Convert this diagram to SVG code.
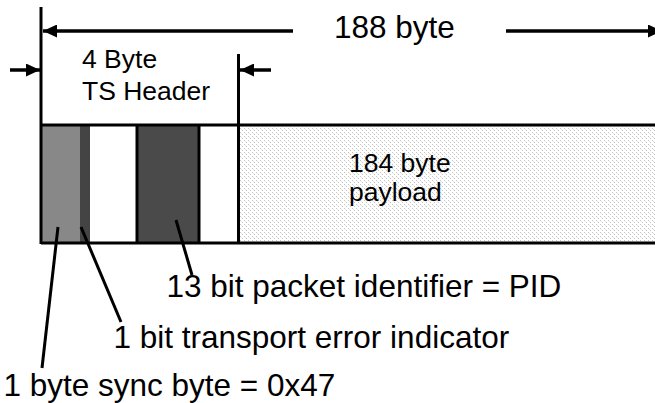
<svg xmlns="http://www.w3.org/2000/svg" width="655" height="403" viewBox="0 0 655 403">
  <style>
    .t { font-family: "Liberation Sans", Arial, sans-serif; fill: #000; }
    .big { font-size: 31.5px; }
    .mid { font-size: 26.5px; }
    .ln { stroke: #000; stroke-width: 3.5; fill: none; }
    .bd { stroke: #000; stroke-width: 3; fill: none; }
  </style>
  <defs>
    <marker id="ah" markerUnits="userSpaceOnUse" markerWidth="14" markerHeight="13" refX="14" refY="6.5" orient="auto">
      <path d="M0,0 L14,6.5 L0,13 z" fill="#000"/>
    </marker>
    <pattern id="dots" width="4" height="4" patternUnits="userSpaceOnUse">
      <rect width="4" height="4" fill="#fff"/>
      <rect x="0" y="0" width="1" height="1" fill="#c4c4c4"/>
      <rect x="2" y="2" width="1" height="1" fill="#c4c4c4"/>
      <rect x="1" y="1" width="1" height="1" fill="#e6e6e6"/>
    </pattern>
  </defs>
  <rect width="655" height="403" fill="#fff"/>

  <g id="packet">
    <rect x="41" y="125" width="616" height="118" fill="#fff"/>
    <rect x="41" y="125" width="39" height="118" fill="#888888"/>
    <rect x="80" y="125" width="10" height="118" fill="#444444"/>
    <rect x="137" y="125" width="62" height="118" fill="#4a4a4a"/>
    <rect x="238" y="125" width="419" height="118" fill="url(#dots)"/>
    <line class="bd" x1="137" y1="125" x2="137" y2="243"/>
    <line class="bd" x1="199" y1="125" x2="199" y2="243"/>
    <line class="bd" x1="41" y1="125" x2="657" y2="125"/>
    <line class="bd" x1="41" y1="243" x2="657" y2="243"/>
  </g>

  <g id="payload-label">
    <text class="t mid" x="349" y="172">184 byte</text>
    <text class="t mid" x="349" y="201">payload</text>
  </g>

  <g id="header-label">
    <text class="t mid" x="82" y="68">4 Byte</text>
    <text class="t mid" x="82" y="100">TS Header</text>
  </g>

  <g id="total-label">
    <text class="t big" x="334" y="38">188 byte</text>
  </g>

  <g id="connectors">
    <line class="bd" x1="41" y1="7" x2="41" y2="244"/>
    <line class="bd" x1="238.5" y1="54" x2="238.5" y2="244"/>
    <line class="ln" x1="293" y1="31" x2="43" y2="31" marker-end="url(#ah)"/>
    <line class="ln" x1="506" y1="31" x2="662" y2="31" marker-end="url(#ah)"/>
    <line class="ln" x1="10" y1="70" x2="40" y2="70" marker-end="url(#ah)"/>
    <line class="ln" x1="271" y1="70" x2="240" y2="70" marker-end="url(#ah)"/>
    <line class="bd" x1="58" y1="227" x2="42" y2="368"/>
    <line class="bd" x1="81" y1="227" x2="121" y2="322"/>
    <line class="bd" x1="176" y1="220" x2="192" y2="275"/>
  </g>

  <g id="pid-label">
    <text class="t big" x="166.5" y="297">13 bit packet identifier = PID</text>
  </g>
  <g id="tei-label">
    <text class="t big" x="113.5" y="348">1 bit transport error indicator</text>
  </g>
  <g id="sync-label">
    <text class="t big" x="3.5" y="396">1 byte sync byte = 0x47</text>
  </g>
</svg>
